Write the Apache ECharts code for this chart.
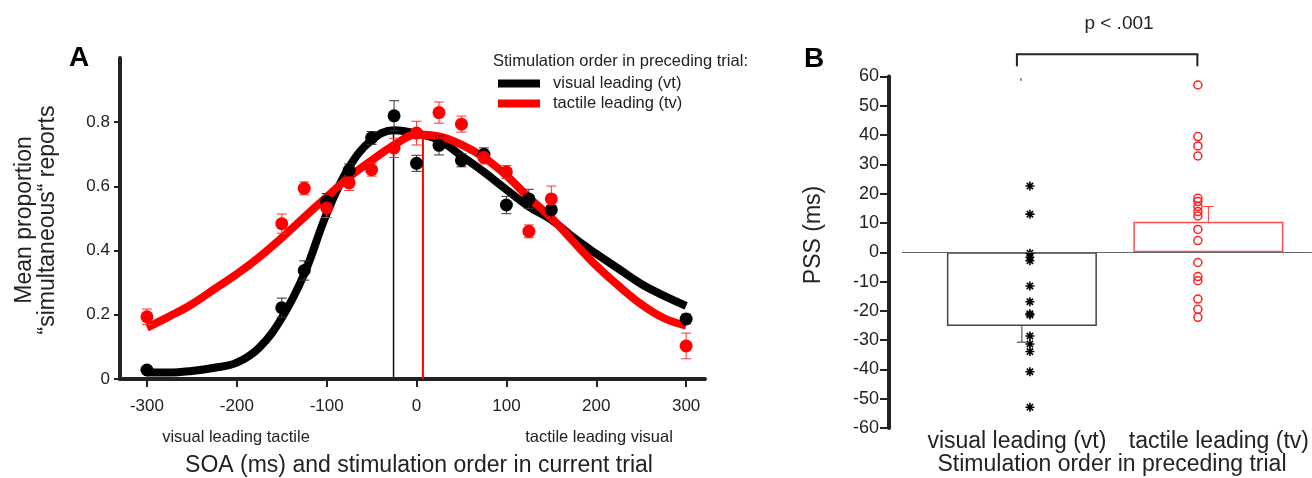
<!DOCTYPE html>
<html><head><meta charset="utf-8">
<script src="https://cdn.jsdelivr.net/npm/echarts@6/dist/echarts.min.js"></script>
<style>html,body{margin:0;padding:0;background:#fff}#c{width:1312px;height:478px}</style>
</head><body><div id="c"></div>
<script>
// ---------- Panel A data ----------
const soa = [-300,-150,-125,-100,-75,-50,-25,0,25,50,75,100,125,150,300];
const vtMean = [0.028,0.222,0.338,0.553,0.65,0.751,0.82,0.672,0.728,0.681,0.70,0.542,0.561,0.527,0.187];
const vtErr  = [0.008,0.03,0.03,0.025,0.02,0.02,0.047,0.025,0.03,0.02,0.02,0.027,0.03,0.03,0.015];
const tvMean = [0.194,0.484,0.594,0.533,0.611,0.652,0.72,0.766,0.83,0.794,0.69,0.645,0.46,0.561,0.103];
const tvErr  = [0.024,0.03,0.02,0.03,0.024,0.02,0.03,0.037,0.033,0.025,0.02,0.02,0.02,0.04,0.04];
const curveX = [-300,-275,-250,-225,-200,-175,-150,-125,-100,-75,-50,-25,0,25,50,75,100,125,150,175,200,225,250,275,300];
const vtCurve = [0.02,0.02,0.025,0.035,0.051,0.098,0.19,0.327,0.515,0.66,0.744,0.775,0.765,0.744,0.695,0.645,0.59,0.537,0.496,0.44,0.39,0.343,0.296,0.26,0.228];
const tvCurve = [0.16,0.195,0.233,0.28,0.327,0.38,0.44,0.504,0.567,0.629,0.681,0.728,0.762,0.756,0.73,0.69,0.634,0.565,0.502,0.427,0.353,0.29,0.233,0.19,0.166];
const pssVt = -25.6, pssVtTop = 0.775;
const pssTv = 7.1, pssTvTop = 0.765;
const xTicksA = [-300,-200,-100,0,100,200,300];
const yTicksA = [0,0.2,0.4,0.6,0.8];
const seriesNames = ['visual leading (vt)','tactile leading (tv)'];

// ---------- Panel B data ----------
const categoriesB = ['visual leading (vt)','tactile leading (tv)'];
const pssMean = [-25.2, 10.4];
const pssSE = [5.5, 5.2];
const vtSubjects = [22.6,13.0,-0.3,-1.7,-2.9,-11.5,-16.9,-21.0,-21.4,-28.6,-31.3,-33.9,-40.8,-52.9];
const tvSubjects = [57.1,39.5,36.3,32.9,18.4,17.3,15.6,13.9,12.4,7.8,4.0,-3.5,-8.3,-9.7,-16.0,-19.5,-22.2];
const strayDot = [59];
const bracketY = 67.6, bracketLeg = 4.1;

const FONT = "'Liberation Sans', Arial, Helvetica, sans-serif";
const INK = '#222';
const RED = '#ff0000';

function errBars(color, cap, both) {
  return function (params, api) {
    const x = api.value(0), lo = api.value(1), hi = api.value(2);
    const a = api.coord([x, lo]), b = api.coord([x, hi]);
    const st = {stroke: color, lineWidth: 1};
    const ch = [
      {type:'line', shape:{x1:a[0],y1:a[1],x2:b[0],y2:b[1]}, style:st},
      {type:'line', shape:{x1:b[0]-cap,y1:b[1],x2:b[0]+cap,y2:b[1]}, style:st}
    ];
    if (both) ch.push({type:'line', shape:{x1:a[0]-cap,y1:a[1],x2:a[0]+cap,y2:a[1]}, style:st});
    return {type:'group', children: ch};
  };
}

const chart = echarts.init(document.getElementById('c'), null, {renderer:'canvas'});
const option = {
  animation: false,
  textStyle: {fontFamily: FONT, color: INK},
  grid: [
    {left: 120, right: 607, top: 58, bottom: 99},
    {left: 902, right: 0, top: 76.5, bottom: 50}
  ],
  xAxis: [
    {gridIndex:0, type:'value', min:-330, max:321,
     axisLine:{onZero:false, lineStyle:{color:INK,width:4}},
     axisTick:{customValues:xTicksA, length:8, lineStyle:{color:INK,width:2}},
     axisLabel:{customValues:xTicksA, fontSize:17, color:INK, margin:19, fontFamily:FONT},
     splitLine:{show:false}},
    {gridIndex:1, type:'value', min:-0.643, max:1.555,
     axisLine:{show:false, onZero:false}, axisTick:{show:false}, splitLine:{show:false},
     axisLabel:{customValues:[0,1], margin:2, fontFamily:FONT, color:INK,
       formatter: function(v){ return v < 0.5 ? '{l|' + categoriesB[0] + '}' : '{r|' + categoriesB[1] + '}'; },
       rich:{ l:{fontSize:23, fontFamily:FONT, color:INK, padding:[0,10,0,0]},
              r:{fontSize:23, fontFamily:FONT, color:INK, padding:[0,0,0,21]} }}}
  ],
  yAxis: [
    {gridIndex:0, type:'value', min:0, max:1,
     axisLine:{show:true, onZero:false, lineStyle:{color:INK,width:4}},
     axisTick:{show:true, customValues:yTicksA, length:6, lineStyle:{color:INK,width:2}},
     axisLabel:{customValues:yTicksA, fontSize:17, color:INK, margin:10, fontFamily:FONT,
       formatter: function(v){ return v === 0 ? '0' : v.toFixed(1); }},
     splitLine:{show:false}},
    {gridIndex:1, type:'value', min:-60, max:60, interval:10, offset:13,
     axisLine:{show:true, onZero:false, lineStyle:{color:INK,width:4}},
     axisTick:{show:true, length:9, lineStyle:{color:INK,width:2}},
     axisLabel:{fontSize:18, color:INK, margin:10, fontFamily:FONT},
     splitLine:{show:false}}
  ],
  legend: {
    data: seriesNames, orient:'vertical', left:493, top:70, icon:'rect',
    itemWidth:42, itemHeight:8, itemGap:3,
    textStyle:{fontSize:16.5, fontFamily:FONT, color:INK, padding:[0,0,0,8], lineHeight:16}
  },
  title: {text:'Stimulation order in preceding trial:', left:488, top:48,
    textStyle:{fontSize:16.5, fontWeight:'normal', fontFamily:FONT, color:INK}},
  graphic: [
    {type:'text', x:79, y:58, style:{text:'A', font:'bold 28px ' + FONT, fill:'#000', align:'center', verticalAlign:'middle'}},
    {type:'text', x:814, y:59, style:{text:'B', font:'bold 28px ' + FONT, fill:'#000', align:'center', verticalAlign:'middle'}},
    {type:'text', x:36, y:220, rotation:Math.PI/2,
     style:{text:'Mean proportion\n\u201Csimultaneous\u201C reports', fontSize:23, fontFamily:FONT, lineHeight:23, fill:INK, align:'center', verticalAlign:'middle'}},
    {type:'text', x:236, y:437, style:{text:'visual leading tactile', fontSize:16.5, fontFamily:FONT, fill:INK, align:'center', verticalAlign:'middle'}},
    {type:'text', x:599, y:437, style:{text:'tactile leading visual', fontSize:16.5, fontFamily:FONT, fill:INK, align:'center', verticalAlign:'middle'}},
    {type:'text', x:419, y:466, style:{text:'SOA (ms) and stimulation order in current trial', fontSize:23, fontFamily:FONT, fill:INK, align:'center', verticalAlign:'middle'}},
    {type:'text', x:814, y:235, rotation:Math.PI/2, style:{text:'PSS (ms)', fontSize:23, fontFamily:FONT, fill:INK, align:'center', verticalAlign:'middle'}},
    {type:'text', x:1112, y:465, style:{text:'Stimulation order in preceding trial', fontSize:23, fontFamily:FONT, fill:INK, align:'center', verticalAlign:'middle'}},
    {type:'text', x:1119, y:24, style:{text:'p < .001', fontSize:19, fontFamily:FONT, fill:INK, align:'center', verticalAlign:'middle'}}
  ],
  series: [
    {type:'line', name:seriesNames[0], xAxisIndex:0, yAxisIndex:0, data:curveX.map((x,i)=>[x,vtCurve[i]]),
     smooth:0.4, symbol:'none', lineStyle:{color:'#000', width:8}, itemStyle:{color:'#000'}, z:2},
    {type:'line', name:seriesNames[1], xAxisIndex:0, yAxisIndex:0, data:curveX.map((x,i)=>[x,tvCurve[i]]),
     smooth:0.4, symbol:'none', lineStyle:{color:RED, width:8}, itemStyle:{color:RED}, z:3},
    {type:'line', xAxisIndex:0, yAxisIndex:0, data:[[pssVt,0],[pssVt,pssVtTop]], symbol:'none',
     lineStyle:{color:'#111', width:1.5}, z:1, silent:true},
    {type:'line', xAxisIndex:0, yAxisIndex:0, data:[[pssTv,0],[pssTv,pssTvTop]], symbol:'none',
     lineStyle:{color:RED, width:2}, z:1, silent:true},
    {type:'custom', xAxisIndex:0, yAxisIndex:0, renderItem:errBars('#333',5,true),
     data:soa.map((x,i)=>[x, vtMean[i]-vtErr[i], vtMean[i]+vtErr[i]]), z:4},
    {type:'custom', xAxisIndex:0, yAxisIndex:0, renderItem:errBars('#ff3333',5,true),
     data:soa.map((x,i)=>[x, tvMean[i]-tvErr[i], tvMean[i]+tvErr[i]]), z:4},
    {type:'scatter', xAxisIndex:0, yAxisIndex:0, data:soa.map((x,i)=>[x,vtMean[i]]),
     symbol:'circle', symbolSize:13, itemStyle:{color:'#000', opacity:1}, z:5},
    {type:'scatter', xAxisIndex:0, yAxisIndex:0, data:soa.map((x,i)=>[x,tvMean[i]]),
     symbol:'circle', symbolSize:13, itemStyle:{color:RED, opacity:1}, z:6},
    // Panel B
    {type:'bar', xAxisIndex:1, yAxisIndex:1, barWidth:150,
     data:[
       {value:[0,pssMean[0]], itemStyle:{color:'rgba(255,255,255,0)', borderColor:'#444', borderWidth:1.5}},
       {value:[1,pssMean[1]], itemStyle:{color:'rgba(255,255,255,0)', borderColor:'#ff4d4d', borderWidth:1.5}}
     ],
     markLine:{silent:true, symbol:'none', label:{show:false},
       lineStyle:{color:'#666', width:1, type:'solid'}, data:[{yAxis:0}]}, z:2},
    {type:'custom', xAxisIndex:1, yAxisIndex:1, renderItem:function(params, api){
       const i = params.dataIndex;
       return errBars(i === 0 ? '#333' : '#ff3333', 5, false)(params, api);
     },
     data:[[0,pssMean[0],pssMean[0]-pssSE[0]],[1,pssMean[1],pssMean[1]+pssSE[1]]], z:3},
    {type:'scatter', xAxisIndex:1, yAxisIndex:1, data:vtSubjects.map(v=>[0,v]),
     symbol:'path://M5,0L5,10M0,5L10,5M1.5,1.5L8.5,8.5M8.5,1.5L1.5,8.5', symbolSize:9, symbolOffset:[8,0],
     itemStyle:{color:'none', borderColor:'#000', borderWidth:1.6, opacity:1}, z:4},
    {type:'scatter', xAxisIndex:1, yAxisIndex:1, data:tvSubjects.map(v=>[1,v]),
     symbol:'circle', symbolSize:8, symbolOffset:[-10.5,0],
     itemStyle:{color:'rgba(255,255,255,0)', borderColor:'#ff2020', borderWidth:1.5, opacity:1}, z:4},
    {type:'scatter', xAxisIndex:1, yAxisIndex:1, data:strayDot.map(v=>[0,v]),
     symbol:'rect', symbolSize:[1.5,3], symbolOffset:[-1,0], itemStyle:{color:'#555'}, z:4},
    {type:'custom', xAxisIndex:1, yAxisIndex:1, clip:false, renderItem:function(params, api){
       const a = api.coord([api.value(0), api.value(2)]);
       const b = api.coord([api.value(1), api.value(2)]);
       const a2 = api.coord([api.value(0), api.value(2)-api.value(3)]);
       const st = {stroke:'#222', lineWidth:2, fill:'none'};
       return {type:'polyline', shape:{points:[[a[0]-5,a2[1]],[a[0]-5,a[1]],[b[0]-11,b[1]],[b[0]-11,a2[1]]]}, style:st};
     },
     data:[[0,1,bracketY,bracketLeg]], z:4}
  ]
};
chart.setOption(option);
</script></body></html>
